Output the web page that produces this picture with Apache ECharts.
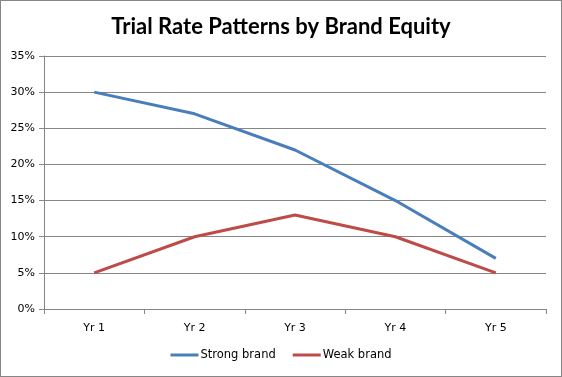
<!DOCTYPE html>
<html>
<head>
<meta charset="utf-8">
<script src="https://cdn.jsdelivr.net/npm/echarts@6/dist/echarts.min.js"></script>
<style>
  html, body { margin: 0; padding: 0; background: #fff; }
  #chart { width: 562px; height: 377px; box-sizing: border-box; border: 1px solid #868686; }
</style>
</head>
<body>
<div id="chart"></div>
<script>
const years = ['Yr 1', 'Yr 2', 'Yr 3', 'Yr 4', 'Yr 5'];
const strongBrand = [30, 27, 22, 15, 7];
const weakBrand = [5, 10, 13, 10, 5];

const chart = echarts.init(document.getElementById('chart'));
chart.setOption({
  animation: false,
  title: {
    text: 'Trial Rate Patterns by Brand Equity',
    left: 'center',
    top: 10,
    textStyle: { fontFamily: 'Lato', fontWeight: 'bold', fontSize: 22, color: '#000' }
  },
  grid: { left: 43, right: 15, top: 55, bottom: 67 },
  legend: {
    bottom: 10,
    left: 'center',
    itemWidth: 28,
    itemHeight: 3,
    itemGap: 17,
    icon: 'rect',
    textStyle: { fontFamily: 'DejaVu Sans', fontSize: 11.5, color: '#000', padding: [0, 0, 0, -3] },
    data: ['Strong brand', 'Weak brand']
  },
  xAxis: {
    type: 'category',
    data: years,
    boundaryGap: true,
    axisLine: { lineStyle: { color: '#868686', width: 1 } },
    axisTick: { show: true, length: 5, lineStyle: { color: '#868686' } },
    axisLabel: { fontFamily: 'DejaVu Sans', fontSize: 11, color: '#000', margin: 14 }
  },
  yAxis: {
    type: 'value',
    min: 0,
    max: 35,
    interval: 5,
    axisLine: { show: true, lineStyle: { color: '#868686', width: 1 } },
    axisTick: { show: true, length: 5, lineStyle: { color: '#868686' } },
    axisLabel: { formatter: '{value}%', fontFamily: 'DejaVu Sans', fontSize: 11, color: '#000', margin: 9 },
    splitLine: { lineStyle: { color: '#868686', width: 1 } }
  },
  series: [
    {
      name: 'Strong brand',
      type: 'line',
      data: strongBrand,
      symbol: 'none',
      itemStyle: { color: '#4A7EBB' },
      lineStyle: { color: '#4A7EBB', width: 3 }
    },
    {
      name: 'Weak brand',
      type: 'line',
      data: weakBrand,
      symbol: 'none',
      itemStyle: { color: '#BE4B48' },
      lineStyle: { color: '#BE4B48', width: 3 }
    }
  ]
});
</script>
</body>
</html>
